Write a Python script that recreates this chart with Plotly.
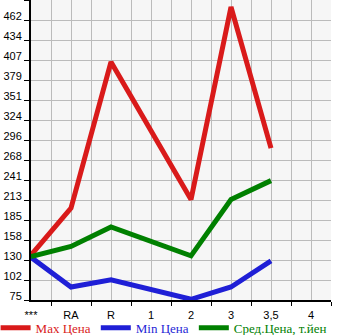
import plotly.graph_objects as go

categories = ["***", "RA", "R", "1", "2", "3", "3,5", "4"]
max_price = [137, 202, 404, None, 214, 480, 285, None]
min_price = [134, 93, 103, None, 76, 93, 129, None]
avg_price = [135, 149, 176, None, 136, 214, 240, None]
ytick_labels = ["75", "102", "130", "158", "185", "213", "241", "268", "296",
                "324", "351", "379", "407", "434", "462"]

step = (462 - 75) / 14.0
y_true = [75 + i * step for i in range(16)]
y_min, y_max = 75, y_true[-1]
shift = step * 4 / 20.0

x_idx = list(range(len(categories)))

fig = go.Figure()
series = [
    ("Max Цена", max_price, "#d91a1a"),
    ("Min Цена", min_price, "#1f1fd6"),
    ("Сред.Цена, т.йен", avg_price, "#008000"),
]
for name, vals, col in series:
    fig.add_trace(go.Scatter(
        x=x_idx, y=vals, mode="lines",
        name=f"<span style='color:{col}'>{name}</span>", connectgaps=True,
        line=dict(color=col, width=5),
        hoverinfo="skip",
    ))

fig.update_layout(
    width=345, height=335,
    margin=dict(l=31, r=14, t=0, b=35, autoexpand=False),
    paper_bgcolor="white",
    plot_bgcolor="#f6f6f6",
    showlegend=True,
    legend=dict(
        orientation="h", x=-0.118, y=-0.093, xanchor="left", yanchor="middle",
        font=dict(family="Liberation Serif", size=13),
        bgcolor="rgba(0,0,0,0)", itemwidth=30,
        tracegroupgap=0,
    ),
    font=dict(family="Liberation Sans", size=11, color="black"),
)
fig.update_xaxes(
    range=[0, 7.5], tickmode="array", tickvals=x_idx, ticktext=categories,
    ticks="outside", ticklen=4, tickcolor="rgba(0,0,0,0)",
    showgrid=True, gridcolor="#bbbbbb", gridwidth=1,
    showline=True, linecolor="black", linewidth=2,
    zeroline=False,
    minor=dict(tickvals=[i + 0.5 for i in range(8)], ticks="outside", ticklen=4,
               tickcolor="black", tickwidth=1, showgrid=True,
               gridcolor="#bbbbbb", gridwidth=1),
)
fig.update_yaxes(
    range=[y_min, y_max], tickmode="array",
    tickvals=[v + shift for v in y_true[:15]], ticktext=ytick_labels,
    ticks="outside", ticklen=5, tickcolor="rgba(0,0,0,0)",
    showgrid=False, showline=True, linecolor="black", linewidth=2,
    zeroline=False,
    minor=dict(tickvals=y_true, ticks="outside", ticklen=5, tickcolor="black",
               tickwidth=1, showgrid=True, gridcolor="#bbbbbb", gridwidth=1),
)

fig.write_html("out.html")
